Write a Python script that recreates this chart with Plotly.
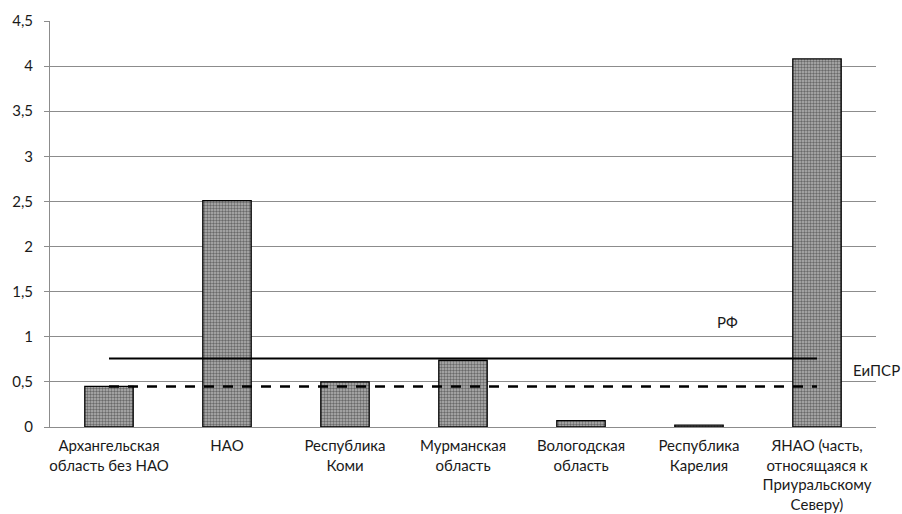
import plotly.graph_objects as go

regions = [
    "Архангельская<br>область без НАО",
    "НАО",
    "Республика<br>Коми",
    "Мурманская<br>область",
    "Вологодская<br>область",
    "Республика<br>Карелия",
    "ЯНАО (часть,<br>относящаяся к<br>Приуральскому<br>Северу)",
]
values = [0.45, 2.51, 0.50, 0.74, 0.07, 0.02, 4.08]
rf_level = 0.76
eipsr_level = 0.45

font_family = "Lato, 'Open Sans', sans-serif"
text_color = "#1a1a1a"
grid_color = "#8c8c8c"

fig = go.Figure()

fig.add_trace(go.Bar(
    x=regions,
    y=values,
    width=0.41,
    marker=dict(
        color="white",
        line=dict(color="black", width=1.3),
        pattern=dict(shape=".", fgcolor="#1e1e1e", bgcolor="#b4b4b4",
                     size=3, solidity=0.5),
    ),
    showlegend=False,
    hoverinfo="x+y",
))

fig.add_trace(go.Scatter(
    x=regions, y=[rf_level] * len(regions), mode="lines",
    line=dict(color="black", width=2), showlegend=False,
))
fig.add_trace(go.Scatter(
    x=regions, y=[eipsr_level] * len(regions), mode="lines",
    line=dict(color="black", width=2.5, dash="10px,9px"), showlegend=False,
))

fig.add_annotation(x=5.24, y=rf_level + 0.4, text="РФ", showarrow=False,
                   xref="x", yref="y", font=dict(size=15, color=text_color))
fig.add_annotation(x=1.001, y=eipsr_level + 0.18, text="ЕиПСР", showarrow=False,
                   xref="paper", yref="y", xanchor="center",
                   font=dict(size=15, color=text_color))

fig.update_layout(
    width=902, height=514,
    margin=dict(l=50, r=26, t=21, b=87),
    paper_bgcolor="white", plot_bgcolor="white",
    separators=", ",
    font=dict(family=font_family, size=15, color=text_color),
)
fig.update_xaxes(
    type="category", range=[-0.5, 6.5],
    showline=True, linecolor=grid_color, linewidth=1,
    showgrid=False, ticks="", tickfont=dict(size=15),
    ticklabelstandoff=5, automargin=False,
)
fig.update_yaxes(
    range=[0, 4.5], dtick=0.5, tick0=0,
    showgrid=True, gridcolor=grid_color, gridwidth=1,
    showline=True, linecolor=grid_color, linewidth=1,
    ticks="outside", ticklen=5, tickcolor=grid_color,
    zeroline=False, tickfont=dict(size=15), ticklabelstandoff=8,
    automargin=False,
)

fig.write_html("out.html")
